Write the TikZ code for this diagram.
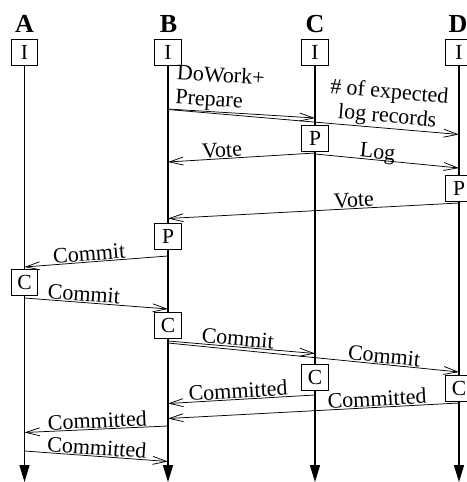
\documentclass[tikz,border=0pt]{standalone}
\usepackage{fontspec}
\setmainfont{Liberation Serif}
\usetikzlibrary{arrows.meta}
\begin{document}
\begin{tikzpicture}[x=1pt,y=-1pt,
  lifeline/.style={line width=1.4pt,-{Triangle[length=17pt,width=10pt]}},
  msg/.style={line width=0.75pt,-{Straight Barb[length=14pt,width=8pt,line width=0.75pt]}},
  state/.style={draw,line width=0.9pt,fill=white,minimum width=26.5pt,minimum height=26pt,
    inner sep=0pt,font=\fontsize{21.5}{21.5}\selectfont},
  head/.style={font=\fontsize{26}{26}\selectfont\bfseries,anchor=base},
  lab/.style={font=\fontsize{22}{24.5}\selectfont,sloped,above,inner sep=1pt,text depth=0pt}]
\useasboundingbox (0,0) rectangle (466,482);

% process headers
\node[head] (hA) at (24.5,32) {A};
\node[head] (hB) at (168.5,32) {B};
\node[head] (hC) at (315,32) {C};
\node[head] (hD) at (458,32) {D};

% initial states
\node[state] (IA) at (24.5,52.5) {I};
\node[state] (IB) at (168,52.5) {I};
\node[state] (IC) at (315,52.5) {I};
\node[state] (ID) at (459,52.5) {I};

% lifeline ends
\coordinate (eA) at (24.5,482);
\coordinate (eB) at (168,482);
\coordinate (eC) at (315,482);
\coordinate (eD) at (459,482);
\draw[lifeline] (IA.south) -- (eA);
\draw[lifeline] (IB.south) -- (eB);
\draw[lifeline] (IC.south) -- (eC);
\draw[lifeline] (ID.south) -- (eD);

% message end points on the lifelines
\coordinate (m1s) at (168,109);   \coordinate (m1e) at (315,118);
\coordinate (m2s) at (168,109.5); \coordinate (m2e) at (459,134.5);
\coordinate (m3s) at (315,153);   \coordinate (m3e) at (168,162);
\coordinate (m4s) at (315,154);   \coordinate (m4e) at (459,168);
\coordinate (m5s) at (459,203);   \coordinate (m5e) at (168,218.5);
\coordinate (m6s) at (168,256);   \coordinate (m6e) at (24.5,267);
\coordinate (m7s) at (24.5,298);  \coordinate (m7e) at (168,309);
\coordinate (m8s) at (168,341);   \coordinate (m8e) at (315,353.5);
\coordinate (m9s) at (168,343);   \coordinate (m9e) at (459,372);
\coordinate (m10s) at (315,395);  \coordinate (m10e) at (168,403.5);
\coordinate (m11s) at (459,403);  \coordinate (m11e) at (168,418.5);
\coordinate (m12s) at (168,426);  \coordinate (m12e) at (24.5,432.5);
\coordinate (m13s) at (24.5,451); \coordinate (m13e) at (168,461.5);

% messages
\draw[msg] (m1s) -- node[pos=0,sloped,anchor=south west,xshift=6pt,inner sep=0.5pt,align=left,
  font=\fontsize{22}{24.5}\selectfont] {DoWork+\\Prepare} (m1e);
\draw[msg] (m2s) -- node[lab,pos=0.75,align=center,text depth=,inner sep=0.5pt]
  {\# of expected\\log records} (m2e);
\draw[msg] (m3s) -- node[lab,pos=0.63] {Vote} (m3e);
\draw[msg] (m4s) -- node[lab,pos=0.43] {Log} (m4e);
\draw[msg] (m5s) -- node[lab,pos=0.36] {Vote} (m5e);
\draw[msg] (m6s) -- node[lab,pos=0.545] {Commit} (m6e);
\draw[msg] (m7s) -- node[lab,pos=0.41] {Commit} (m7e);
\draw[msg] (m8s) -- node[lab,pos=0.47] {Commit} (m8e);
\draw[msg] (m9s) -- node[lab,pos=0.74] {Commit} (m9e);
\draw[msg] (m10s) -- node[lab,pos=0.52] {Committed} (m10e);
\draw[msg] (m11s) -- node[lab,pos=0.28] {Committed} (m11e);
\draw[msg] (m12s) -- node[lab,pos=0.49] {Committed} (m12e);
\draw[msg] (m13s) -- node[lab,pos=0.5] {Committed} (m13e);

% state changes
\node[state] (PC) at (315,138) {P};
\node[state] (PD) at (459,188) {P};
\node[state] (PB) at (168,236) {P};
\node[state] (CA) at (24.5,282.5) {C};
\node[state] (CB) at (168,325) {C};
\node[state] (CC) at (315,377.5) {C};
\node[state] (CD) at (459,388) {C};
\end{tikzpicture}
\end{document}
